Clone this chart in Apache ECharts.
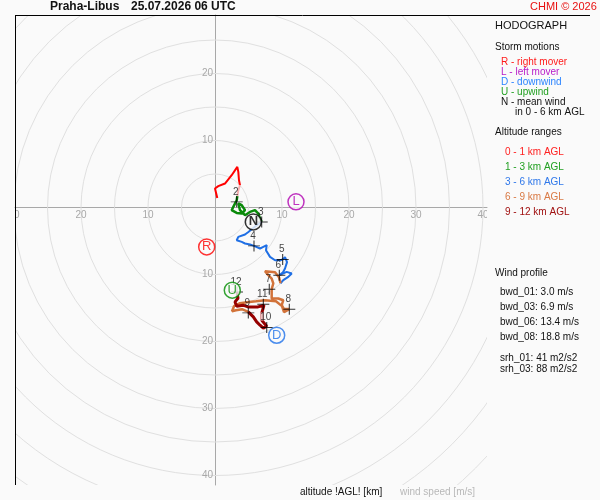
<!DOCTYPE html>
<html>
<head>
<meta charset="UTF-8">
<title>Hodograph</title>
<script src="https://cdn.jsdelivr.net/npm/echarts@6.0.0/dist/echarts.min.js"></script>
<style>
    html, body { margin: 0; padding: 0; background: #fafafa; }
    #chart { width: 600px; height: 500px; }
</style>
</head>
<body>
<div id="chart"></div>
<script>
// ---- data (u, v in m/s) ----
const ringRadii = [5, 10, 15, 20, 25, 30, 35, 40, 45, 50, 55, 60];
const xTicks = [-30, -20, -10, 10, 20, 30, 40];
const yTicks = [-40, -30, -20, -10, 10, 20];

const alt01 = [[0.34,1.43],[0,2.84],[0.49,3.18],[1.49,3.58],[2.49,4.82],[3.33,6.06],[3.48,5.31],[3.58,4.07],[3.73,3.33]];
const alt01to13 = [[3.73,3.33],[3.48,2.58],[3.33,1.69]];
const alt13 = [[3.33,1.69],[3.24,1.09],[3.48,0.84],[2.73,0.09],[2.49,-0.40],[3.24,-0.81],[3.99,-0.90],[4.48,-0.40],
    [3.99,0.34],[3.48,0.60],[3.73,-0.40],[4.48,-1.15],[5.22,-0.66],[5.97,-0.40],[6.46,-0.90],[6.72,-1.64],[6.97,-2.15]];
const alt36 = [[6.97,-2.15],[5.9,-2.9],[4.93,-3.69],[4.48,-4.03],[3.48,-4.39],[3.24,-4.88],[3.99,-5.13],[4.48,-5.37],
    [5.22,-5.52],[5.82,-5.73],[6.72,-6.12],[7.21,-5.88],[7.72,-5.63],[7.61,-6.37],[8.21,-7.37],[8.96,-7.87],[9.70,-7.87],
    [10.10,-7.76],[10.45,-7.42],[10.75,-8.16],[10.45,-9.10],[10.15,-9.66],[9.60,-10.10],[10.70,-9.61],[11.45,-9.85],
    [10.94,-10.36],[10.19,-10.85],[9.78,-11.30]];
const alt69 = [[9.78,-11.30],[9.55,-10.40],[8.96,-9.66],[7.46,-9.51],[7.96,-10.10],[8.46,-10.60],[8.70,-11.34],[8.46,-12.19],
    [8.70,-12.34],[8.46,-13.58],[9.45,-13.58],[10.19,-13.84],[9.96,-14.58],[10.30,-15.16],[11.09,-15.16],[10.30,-15.63],
    [10.0,-14.72],[9.10,-13.99],[7.46,-13.84],[6.12,-13.99],[4.78,-14.13],[3.73,-14.28],[2.84,-14.73],[2.54,-15.48],
    [3.13,-15.33],[4.03,-15.18],[4.97,-15.58]];
const alt912 = [[4.97,-15.58],[5.72,-16.33],[6.22,-17.07],[6.72,-17.57],[7.21,-18.01],[7.72,-17.72],[7.01,-16.87],
    [7.01,-15.67],[7.31,-14.58],[6.42,-14.84],[5.67,-14.84],[4.93,-14.84],[4.18,-14.58],[3.24,-14.73],[2.99,-14.09],
    [3.43,-13.54],[3.28,-12.6]];
const alt912gap = [[7.01,-16.87],[7.01,-15.67]];

const kmLabels = ['2','3','4','5','6','7','8','9','10','11','12'];
const kmPoints = [[3.24,0.84],[6.97,-2.15],[5.82,-5.73],[10.10,-7.76],[9.60,-10.10],[8.10,-12.19],[11.09,-15.18],
    [4.97,-15.73],[7.72,-17.91],[7.21,-14.43],[3.28,-12.6]];

const stormNames = ['R', 'L', 'D', 'U', 'N'];
const stormPoints = [[-1.24,-5.88],[12.09,0.84],[9.21,-19.06],[2.58,-12.34],[5.72,-2.15]];

const titleStation = 'Praha-Libus';
const titleTime = '25.07.2026 06 UTC';
const copyright = 'CHMI \u00a9 2026';
const stormLegend = ['R - right mover', 'L - left mover', 'D - downwind', 'U - upwind', 'N - mean wind', 'in 0 - 6 km AGL'];
const altitudeLegend = ['0 - 1 km AGL', '1 - 3 km AGL', '3 - 6 km AGL', '6 - 9 km AGL', '9 - 12 km AGL'];
const bwdLines = ['bwd_01: 3.0 m/s', 'bwd_03: 6.9 m/s', 'bwd_06: 13.4 m/s', 'bwd_08: 18.8 m/s'];
const srhLines = ['srh_01: 41 m2/s2', 'srh_03: 88 m2/s2'];

// ---- layout / style ----
const FONT = '"Liberation Sans", Arial, sans-serif';
const cx = 215, cy = 207.5, scale = 6.7;
const plot = { left: 15, top: 15, width: 472, height: 470 };
const xMin = (plot.left - cx) / scale;
const xMax = (plot.left + plot.width - cx) / scale;
const yMax = (cy - plot.top) / scale;
const yMin = (cy - plot.top - plot.height) / scale;

const stormColors = ['#ff0000', '#b000b0', '#1f72ea', '#008c00', '#000000'];
const stormLegendColors = ['#ff1a1a', '#b81cc8', '#2b84ff', '#22a022', '#111111', '#111111'];
const altLegendColors = ['#ff2020', '#22a022', '#2f78ea', '#d97a45', '#a01010'];

function txt(text, x, y, fill, size, weight) {
    return {
        type: 'text', x: x, y: y, silent: true, z: 100,
        style: { text: text, fill: fill, font: (weight || 'normal') + ' ' + size + 'px ' + FONT, verticalAlign: 'middle' }
    };
}

const graphics = [
    { type: 'line', z: 100, shape: { x1: 15, y1: 15.5, x2: 590, y2: 15.5 }, style: { stroke: '#000', lineWidth: 1 } },
    { type: 'line', z: 100, shape: { x1: 15.5, y1: 15, x2: 15.5, y2: 485 }, style: { stroke: '#000', lineWidth: 1 } },
    txt(titleStation, 50, 7, '#111', 12, 'bold'),
    txt(titleTime, 131, 7, '#111', 12, 'bold'),
    txt(copyright, 530, 7, '#e81010', 11),
    txt('HODOGRAPH', 495, 26, '#111', 11),
    txt('Storm motions', 495, 47, '#111', 10),
    txt('Altitude ranges', 495, 132, '#111', 10),
    txt('Wind profile', 495, 273, '#111', 10),
    txt('altitude !AGL! [km]', 300, 492, '#111', 10),
    txt('wind speed [m/s]', 400, 492, '#b8b8b8', 10)
];
stormLegend.forEach((t, i) => graphics.push(txt(t, i === 5 ? 515 : 501, 62 + i * 10, stormLegendColors[i], 10)));
altitudeLegend.forEach((t, i) => graphics.push(txt(t, 505, 152 + i * 15, altLegendColors[i], 10)));
bwdLines.forEach((t, i) => graphics.push(txt(t, 500, 292 + i * 15, '#111', 10)));
srhLines.forEach((t, i) => graphics.push(txt(t, 500, 358 + i * 11.5, '#111', 10)));

function pathSeries(data, color, width) {
    return {
        type: 'line', data: data, showSymbol: false, silent: true, z: 3,
        lineStyle: { color: color, width: width }
    };
}

// tick labels drawn in data space so they clip at the plot edge like the original
function tickLabelSeries(data, isX) {
    return {
        type: 'custom', clip: true, silent: true, z: 2,
        data: data, encode: { x: 0, y: 1 },
        renderItem: function (params, api) {
            const c = api.coord([api.value(0), api.value(1)]);
            const v = Math.abs(isX ? api.value(0) : api.value(1));
            return {
                type: 'text',
                x: isX ? c[0] : c[0] - 2,
                y: isX ? c[1] + 3 : c[1],
                style: {
                    text: String(v), fill: '#a8a8a8', font: '10px ' + FONT,
                    align: isX ? 'center' : 'right', verticalAlign: isX ? 'top' : 'middle'
                }
            };
        }
    };
}

const chart = echarts.init(document.getElementById('chart'));
chart.setOption({
    backgroundColor: '#fafafa',
    animation: false,
    graphic: graphics,
    grid: { left: plot.left, top: plot.top, width: plot.width, height: plot.height },
    xAxis: {
        type: 'value', min: xMin, max: xMax,
        axisLine: { onZero: true, lineStyle: { color: '#a8a8a8', width: 1 } },
        axisTick: { show: false }, splitLine: { show: false }, axisLabel: { show: false }
    },
    yAxis: {
        type: 'value', min: yMin, max: yMax,
        axisLine: { onZero: true, lineStyle: { color: '#a8a8a8', width: 1 } },
        axisTick: { show: false }, splitLine: { show: false }, axisLabel: { show: false }
    },
    series: [
        {
            type: 'custom', clip: true, silent: true, z: 1,
            data: ringRadii.map(r => [0, 0, r]),
            encode: { x: 0, y: 1 },
            renderItem: function (params, api) {
                const c = api.coord([0, 0]);
                const r = api.size([api.value(2), api.value(2)])[0];
                return {
                    type: 'circle',
                    shape: { cx: c[0], cy: c[1], r: r },
                    style: { fill: 'none', stroke: '#e0e0e0', lineWidth: 1 }
                };
            }
        },
        tickLabelSeries(xTicks.map(v => [v, 0]), true),
        tickLabelSeries(yTicks.map(v => [0, v]), false),
        pathSeries(alt01, '#ff0000', 2),
        pathSeries(alt01to13, '#f5b0b0', 2),
        pathSeries(alt13, '#0a8a0a', 2.5),
        pathSeries(alt36, '#1f6fe5', 2),
        pathSeries(alt69, '#d2733a', 2.5),
        pathSeries(alt912, '#960000', 3),
        pathSeries(alt912gap, '#f0c0c0', 3),
        {
            type: 'scatter', silent: true, z: 5,
            data: kmPoints.map((p, i) => ({ value: p, name: kmLabels[i] })),
            symbol: 'path://M0,6L12,6M6,0L6,12',
            symbolSize: [12, 11],
            itemStyle: { color: 'none', borderColor: '#000', borderWidth: 1 },
            label: {
                show: true, position: 'inside', offset: [-1, -10],
                formatter: p => p.name, color: '#111', fontSize: 10, fontFamily: FONT
            }
        },
        {
            type: 'scatter', silent: true, z: 6,
            data: stormPoints.map((p, i) => ({
                value: p, name: stormNames[i],
                itemStyle: { color: '#fafafa', borderColor: stormColors[i], borderWidth: 1.5 },
                label: { color: stormColors[i], fontWeight: i === 4 ? 'bold' : 'normal' }
            })),
            symbol: 'circle', symbolSize: 16,
            label: { show: true, position: 'inside', formatter: p => p.name, fontSize: 13, fontFamily: FONT }
        }
    ]
});
</script>
</body>
</html>
